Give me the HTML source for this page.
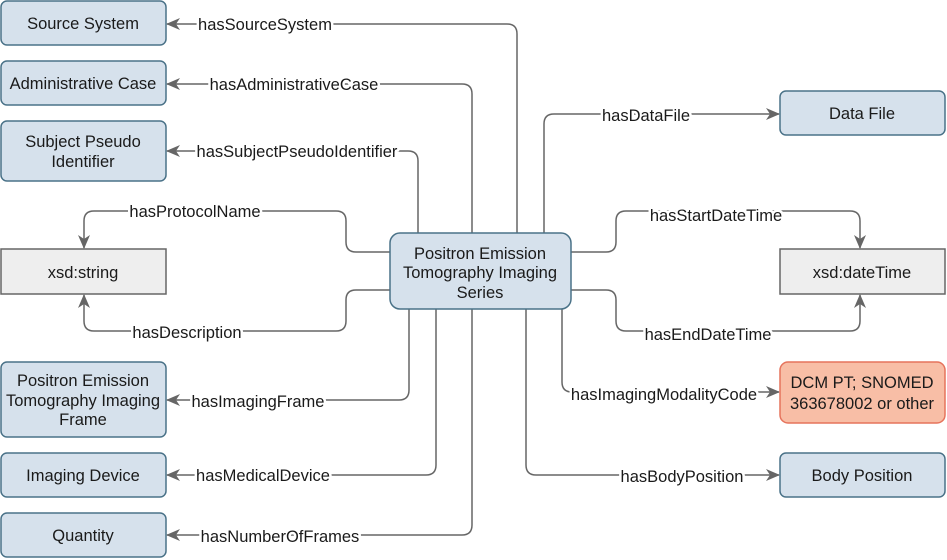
<!DOCTYPE html>
<html><head><meta charset="utf-8"><style>
body{margin:0;background:#fff}
svg{display:block}
text{font-family:"Liberation Sans",Arial,sans-serif;font-size:16.5px;fill:#1a1a1a}
.b{fill:#d6e1ec;stroke:#4a7288;stroke-width:1.5}
.g{fill:#eeeeee;stroke:#666;stroke-width:1.5}
.o{fill:#f8bea6;stroke:#e6735c;stroke-width:1.5}
.e{fill:none;stroke:#666;stroke-width:1.5}
.l{text-anchor:middle}
.w{stroke:#fff;stroke-width:5;paint-order:stroke;stroke-linejoin:round}
</style></head><body>
<svg width="947" height="560" viewBox="0 0 947 560" xmlns="http://www.w3.org/2000/svg">
<defs><marker id="a" markerWidth="16" markerHeight="16" refX="13" refY="8" orient="auto" markerUnits="userSpaceOnUse"><path d="M0,2 L14,8 L0,14 L4,8 Z" fill="#666"/></marker></defs>
<path class="e" marker-end="url(#a)" d="M517,233 V34 Q517,24 507,24 H167"/>
<path class="e" marker-end="url(#a)" d="M472,233 V94 Q472,84 462,84 H167"/>
<path class="e" marker-end="url(#a)" d="M418,233 V161 Q418,151 408,151 H167"/>
<path class="e" marker-end="url(#a)" d="M390,252 H356 Q346,252 346,242 V221 Q346,211 336,211 H94 Q84,211 84,221 V248"/>
<path class="e" marker-end="url(#a)" d="M390,290 H356 Q346,290 346,300 V321 Q346,331 336,331 H94 Q84,331 84,321 V295"/>
<path class="e" marker-end="url(#a)" d="M409,309 V390 Q409,400 399,400 H167"/>
<path class="e" marker-end="url(#a)" d="M436,309 V465 Q436,475 426,475 H167"/>
<path class="e" marker-end="url(#a)" d="M472,309 V525 Q472,535 462,535 H167"/>
<path class="e" marker-end="url(#a)" d="M544,233 V124 Q544,114 554,114 H779"/>
<path class="e" marker-end="url(#a)" d="M571,252 H606 Q616,252 616,242 V221 Q616,211 626,211 H850 Q860,211 860,221 V248"/>
<path class="e" marker-end="url(#a)" d="M571,290 H606 Q616,290 616,300 V321 Q616,331 626,331 H850 Q860,331 860,321 V295"/>
<path class="e" marker-end="url(#a)" d="M562,309 V382 Q562,392 572,392 H779"/>
<path class="e" marker-end="url(#a)" d="M526,309 V465 Q526,475 536,475 H779"/>
<g class="l w">
<text x="265" y="30">hasSourceSystem</text>
<text x="294" y="90">hasAdministrativeCase</text>
<text x="297" y="157">hasSubjectPseudoIdentifier</text>
<text x="195" y="217">hasProtocolName</text>
<text x="187" y="338">hasDescription</text>
<text x="258" y="407">hasImagingFrame</text>
<text x="263" y="481">hasMedicalDevice</text>
<text x="280" y="542">hasNumberOfFrames</text>
<text x="646" y="121">hasDataFile</text>
<text x="716" y="221">hasStartDateTime</text>
<text x="708" y="340">hasEndDateTime</text>
<text x="664" y="400">hasImagingModalityCode</text>
<text x="682" y="482">hasBodyPosition</text>
</g>
<rect class="b" x="390" y="233" width="181" height="76" rx="10"/>
<text class="l" x="480" y="259">Positron Emission</text><text class="l" x="480" y="278">Tomography Imaging</text><text class="l" x="480" y="298">Series</text>
<rect class="b" x="1" y="1" width="165" height="44" rx="6"/><text class="l" x="83" y="29">Source System</text>
<rect class="b" x="1" y="61" width="165" height="44" rx="6"/><text class="l" x="83" y="89">Administrative Case</text>
<rect class="b" x="1" y="121" width="165" height="60" rx="6"/><text class="l" x="83" y="147">Subject Pseudo</text><text class="l" x="83" y="167">Identifier</text>
<rect class="g" x="1" y="249" width="165" height="45"/><text class="l" x="83" y="278">xsd:string</text>
<rect class="b" x="1" y="362" width="165" height="75" rx="6"/><text class="l" x="83" y="386">Positron Emission</text><text class="l" x="83" y="406">Tomography Imaging</text><text class="l" x="83" y="425">Frame</text>
<rect class="b" x="1" y="453" width="165" height="44" rx="6"/><text class="l" x="83" y="481">Imaging Device</text>
<rect class="b" x="1" y="513" width="165" height="44" rx="6"/><text class="l" x="83" y="541">Quantity</text>
<rect class="b" x="780" y="91" width="165" height="44" rx="6"/><text class="l" x="862" y="119">Data File</text>
<rect class="g" x="780" y="249" width="165" height="45"/><text class="l" x="862" y="278">xsd:dateTime</text>
<rect class="o" x="780" y="362" width="165" height="61" rx="8"/><text class="l" x="862" y="388">DCM PT; SNOMED</text><text class="l" x="862" y="409">363678002 or other</text>
<rect class="b" x="780" y="453" width="165" height="44" rx="6"/><text class="l" x="862" y="481">Body Position</text>
</svg>
</body></html>
